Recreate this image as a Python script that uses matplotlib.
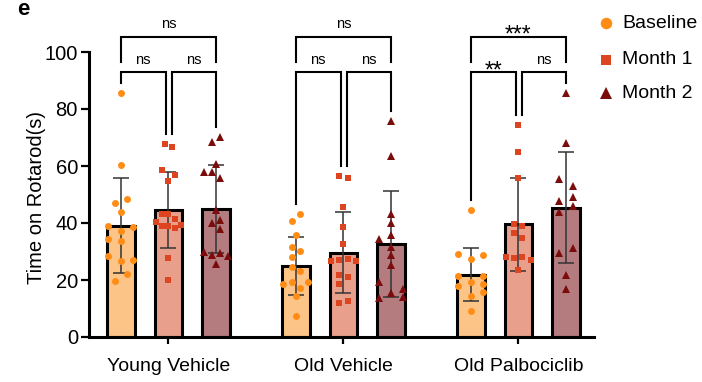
import matplotlib
matplotlib.use('Agg')
import matplotlib.pyplot as plt
from matplotlib.lines import Line2D
import numpy as np

plt.rcParams['font.family'] = ['Liberation Sans', 'DejaVu Sans']

groups = ['Young Vehicle', 'Old Vehicle', 'Old Palbociclib']
series = ['Baseline', 'Month 1', 'Month 2']

# bar heights (mean) and SD
base_mean = [39.1, 25.0, 21.8]
m1_mean = [44.6, 29.6, 39.5]
m2_mean = [44.9, 32.5, 45.4]
base_sd = [16.8, 10.2, 9.3]
m1_sd = [13.4, 14.3, 16.4]
m2_sd = [15.4, 18.6, 19.4]

# individual animals
yv_base = [85.7, 60.5, 48.4, 47.1, 43.8, 39.1, 38.7, 37.3, 34.4, 33.7, 28.4, 27.0, 26.7, 22.1, 19.8]
yv_m1 = [67.6, 66.6, 58.5, 56.7, 54.9, 43.0, 43.0, 41.5, 40.2, 38.9, 38.9, 39.2, 38.1, 27.8, 19.9]
yv_m2 = [70.1, 68.3, 60.7, 58.0, 58.0, 55.7, 44.6, 41.1, 39.9, 37.9, 29.9, 28.8, 29.4, 28.3, 25.5]
ov_base = [43.2, 40.8, 35.8, 31.7, 30.2, 28.1, 24.4, 23.0, 18.5, 19.4, 17.2, 19.2, 14.4, 7.4]
ov_m1 = [56.4, 55.7, 45.7, 38.5, 32.5, 26.6, 26.9, 27.3, 26.6, 21.6, 20.9, 18.5, 11.8, 12.5]
ov_m2 = [75.7, 63.5, 43.2, 40.1, 35.9, 34.3, 31.7, 28.9, 25.3, 19.3, 15.6, 17.0, 13.8, 14.0]
op_base = [44.4, 29.1, 28.8, 27.4, 21.4, 21.4, 19.2, 17.8, 18.5, 15.8, 14.4, 9.2]
op_m1 = [74.3, 64.8, 55.7, 39.5, 38.9, 36.5, 34.6, 28.1, 27.6, 28.1, 26.9, 23.4]
op_m2 = [85.7, 68.2, 55.3, 53.0, 49.0, 47.7, 46.0, 43.8, 29.6, 31.1, 21.6, 17.0]

# scatter spread (in column slots) for each point above
yv_base_j = [0, 0, 1, -1, 0, -2, 2, 0, -2, 0, -2, 2, 0, 1, -1]
yv_m1_j = [-0.5, 0.5, -1, 1, 0, -1, 0, 1, -2, -1, 0, 2, 1, 0, 0]
yv_m2_j = [0.65, -0.65, 0, -2, -0.65, 0.65, 0, 0.65, -0.65, 0.65, -2, -0.65, 0.65, 2, 0]
ov_base_j = [0.6, -0.7, 0, -0.7, 0.6, -0.7, -0.7, 0.6, -2, -0.7, 0.6, 2, 0, 0]
ov_m1_j = [-0.7, 0.7, 0, 0, 0, -2, -0.7, 0.7, 2, -0.7, 0.7, -0.7, -0.7, 0.7]
ov_m2_j = [0, 0, 0, 0, 0, -2, 0, 0, 0, -2, 0, 2, -2, 2]
op_base_j = [0, -2, 2, 0, -2, 2, 0, -2, 2, 2, 0, 0]
op_m1_j = [0, 0, 0, -0.65, 0.65, -0.65, 0.65, -2, -0.65, 0.65, 2, 0]
op_m2_j = [0, 0, -1.1, 1.1, 1.1, -1.1, 1.1, -1.1, -1.1, 1.1, 0, 0]

# significance: (left bar, right bar, label) per group
sig_yv = [(0, 1, 'ns'), (1, 2, 'ns'), (0, 2, 'ns')]
sig_ov = [(0, 1, 'ns'), (1, 2, 'ns'), (0, 2, 'ns')]
sig_op = [(0, 1, '**'), (1, 2, 'ns'), (0, 2, '***')]

bar_cols = ['#FCC487', '#E8A08C', '#B47C7F']
pt_cols = ['#FF8C14', '#DD4520', '#7B0C0C']
markers = ['o', 's', '^']
msizes = [5.0, 4.5, 5.4]

means = [base_mean, m1_mean, m2_mean]
sds = [base_sd, m1_sd, m2_sd]
pts = [[yv_base, yv_m1, yv_m2], [ov_base, ov_m1, ov_m2], [op_base, op_m1, op_m2]]
jit = [[yv_base_j, yv_m1_j, yv_m2_j], [ov_base_j, ov_m1_j, ov_m2_j], [op_base_j, op_m1_j, op_m2_j]]
sigs = [sig_yv, sig_ov, sig_op]

fig = plt.figure(figsize=(7.02, 3.82), dpi=100)
ax = fig.add_axes([89 / 702, 45 / 382, 505 / 702, 285 / 382])

centers = np.arange(len(groups)) * 3.68
slot = 0.13
for g, c in enumerate(centers):
    for s in range(3):
        x = c + (s - 1)
        ax.bar(x, means[s][g], width=0.58, color=bar_cols[s], edgecolor='black',
               linewidth=2.2, zorder=1)
        ax.errorbar(x, means[s][g], yerr=sds[s][g], color='#333333', lw=1.1,
                    capsize=5.5, capthick=1.1, zorder=2)
        xs = x + np.array(jit[g][s]) * slot
        ax.plot(xs, pts[g][s], ls='none', marker=markers[s], ms=msizes[s],
                color=pt_cols[s], mew=0, zorder=3)

    # brackets
    tops = [max(p) + 3.5 for p in pts[g]]
    for i, j, lab in sigs[g]:
        if j - i == 2:
            x1, x2 = c - 1, c + 1
            yl, y1, y2 = 105.3, 96.5, 96.5
            ty = 108.4
        else:
            x1 = c + (i - 1) + (0.07 if i == 1 else 0)
            x2 = c + (j - 1) - (0.06 if j == 1 else 0)
            yl, y1, y2 = 93.0, tops[i], tops[j]
            ty = 95.8
        ax.plot([x1, x1, x2, x2], [y1, yl, yl, y2], color='black', lw=1.5,
                clip_on=False, zorder=4, solid_joinstyle='miter')
        if lab == 'ns':
            ax.text((x1 + x2) / 2, ty, lab, ha='center', va='baseline', fontsize=10.5)
        else:
            ax.text((x1 + x2) / 2, ty - 4.6, lab, ha='center', va='baseline', fontsize=16.5)

ax.set_xlim(-1.67, 8.95)
ax.set_ylim(0, 100)
ax.set_yticks([0, 20, 40, 60, 80, 100])
ax.set_xticks(centers, groups)
for side in ['top', 'right']:
    ax.spines[side].set_visible(False)
for side in ['left', 'bottom']:
    ax.spines[side].set_linewidth(2.2)
ax.tick_params(axis='y', labelsize=14.5, width=1.6, length=6, pad=2)
ax.tick_params(axis='x', labelsize=14, width=1.6, length=5, pad=10)

fig.text(37 / 702, 1 - 197 / 382, 'Time on Rotarod(s)', rotation=90,
         ha='center', va='center', fontsize=14.5)
fig.text(17 / 702, 1 - 15 / 382, 'e', fontsize=16, fontweight='bold', va='baseline')

# legend
leg_y = [23, 60, 93]
for s in range(3):
    fig.add_artist(Line2D([605.7 / 702], [1 - leg_y[s] / 382], marker=markers[s],
                          ms=[8.3, 7.8, 8.3][s], color=pt_cols[s], mew=0, ls='none'))
    fig.text(622 / 702, 1 - leg_y[s] / 382, series[s], fontsize=14, va='center')

fig.savefig('out.png', dpi=100)
